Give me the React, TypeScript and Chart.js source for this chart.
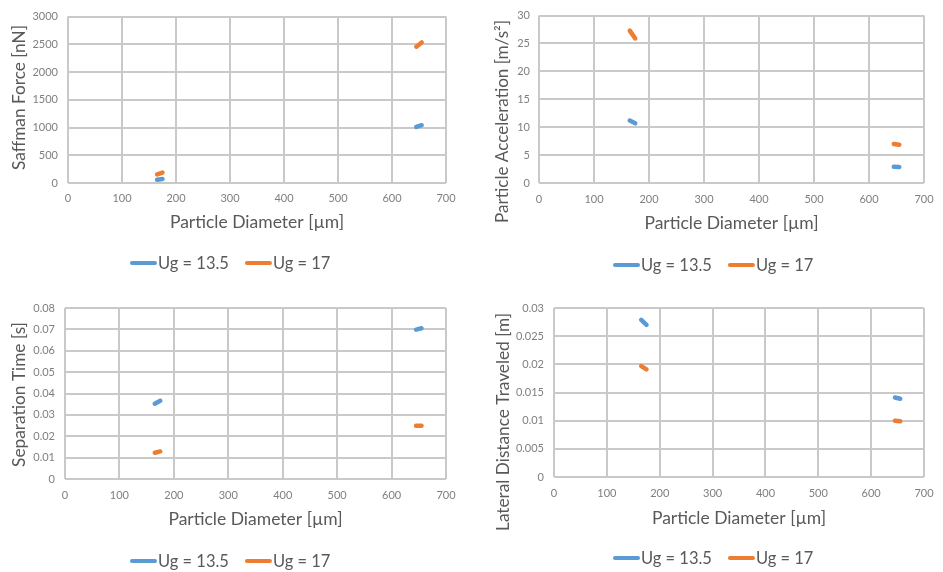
import React, { useEffect, useRef } from 'react';
import { Chart, registerables } from 'chart.js';

Chart.register(...registerables);

// ---------------- data ----------------
const seriesLabels = ['Ug = 13.5', 'Ug = 17'];
const seriesColors = ['#5B9BD5', '#ED7D31'];
const particleDiameters = [165, 175, 645, 655]; // µm
const xTickValues = [0, 100, 200, 300, 400, 500, 600, 700];
const xAxisTitle = 'Particle Diameter [µm]';

const saffmanUg135 = [60, 72, 1010, 1042];
const saffmanUg17 = [155, 188, 2458, 2535];
const saffmanTicks = [0, 500, 1000, 1500, 2000, 2500, 3000];

const accelUg135 = [11.2, 10.7, 2.9, 2.85];
const accelUg17 = [27.3, 25.9, 7.0, 6.85];
const accelTicks = [0, 5, 10, 15, 20, 25, 30];

const sepTimeUg135 = [0.0352, 0.0366, 0.0699, 0.0705];
const sepTimeUg17 = [0.0123, 0.0129, 0.0249, 0.0249];
const sepTimeTicks = [0, 0.01, 0.02, 0.03, 0.04, 0.05, 0.06, 0.07, 0.08];

const lateralUg135 = [0.0279, 0.027, 0.0141, 0.0139];
const lateralUg17 = [0.0197, 0.0191, 0.01, 0.0099];
const lateralTicks = [0, 0.005, 0.01, 0.015, 0.02, 0.025, 0.03];

// ---------------- layout ----------------
type Panel = {
  left: number; top: number; width: number; height: number;
  area: { l: number; r: number; t: number; b: number };
  yTitle: string; yTicks: number[]; series: number[][];
  yTitleCenterX: number; yTitleCenterY: number; yTitleLength: number; yTickRight: number;
  xTickCenterY: number; xTitleCenterY: number;
  legendX: number; legendY: number;
};

const panels: Panel[] = [
  {
    left: 0, top: 0, width: 470, height: 290,
    area: { l: 68, r: 446, t: 13, b: 183 },
    yTitle: 'Saffman Force [nN]', yTicks: saffmanTicks, series: [saffmanUg135, saffmanUg17],
    yTitleCenterX: 19, yTitleCenterY: 97.5, yTitleLength: 145, yTickRight: 58,
    xTickCenterY: 198, xTitleCenterY: 222,
    legendX: 130, legendY: 263,
  },
  {
    left: 470, top: 0, width: 473, height: 290,
    area: { l: 69, r: 459, t: 15, b: 183 },
    yTitle: 'Particle Acceleration [m/s²]', yTicks: accelTicks, series: [accelUg135, accelUg17],
    yTitleCenterX: 32, yTitleCenterY: 121.5, yTitleLength: 203, yTickRight: 60,
    xTickCenterY: 199, xTitleCenterY: 223,
    legendX: 143, legendY: 265,
  },
  {
    left: 0, top: 290, width: 470, height: 282,
    area: { l: 65, r: 446, t: 18, b: 189 },
    yTitle: 'Separation Time [s]', yTicks: sepTimeTicks, series: [sepTimeUg135, sepTimeUg17],
    yTitleCenterX: 19, yTitleCenterY: 104.5, yTitleLength: 145, yTickRight: 55,
    xTickCenterY: 205, xTitleCenterY: 229,
    legendX: 130, legendY: 271,
  },
  {
    left: 470, top: 290, width: 473, height: 282,
    area: { l: 84, r: 459, t: 18, b: 187 },
    yTitle: 'Lateral Distance Traveled [m]', yTicks: lateralTicks, series: [lateralUg135, lateralUg17],
    yTitleCenterX: 33, yTitleCenterY: 132, yTitleLength: 218, yTickRight: 74,
    xTickCenterY: 203, xTitleCenterY: 228,
    legendX: 143, legendY: 268,
  },
];

const FONT = 'Lato, "Open Sans", sans-serif';
const X_TITLE_SIZE = 17.5;
const TICK_SIZE = 11;
const LEGEND_SIZE = 16.5;
const TITLE_COLOR = '#595959';

function toPoints(values: number[]) {
  const pts: { x: number; y: number | null }[] = [];
  particleDiameters.forEach((d, i) => {
    if (i === 2) pts.push({ x: (particleDiameters[1] + particleDiameters[2]) / 2, y: null });
    pts.push({ x: d, y: values[i] });
  });
  return pts;
}

const fmt = (v: number | string) => String(parseFloat(Number(v).toFixed(6)));

const excelLegend = {
  id: 'excelLegend',
  afterDraw(chart: any, _args: any, opts: any) {
    const { ctx } = chart;
    ctx.save();
    ctx.font = `${LEGEND_SIZE}px ${FONT}`;
    ctx.textBaseline = 'middle';
    ctx.textAlign = 'left';
    let x = opts.x;
    const y = opts.y;
    chart.data.datasets.forEach((ds: any) => {
      ctx.strokeStyle = ds.borderColor;
      ctx.lineWidth = 4;
      ctx.lineCap = 'round';
      ctx.beginPath();
      ctx.moveTo(x + 2, y);
      ctx.lineTo(x + 25, y);
      ctx.stroke();
      ctx.fillStyle = TITLE_COLOR;
      ctx.fillText(ds.label, x + 28, y + 1);
      x += 28 + ctx.measureText(ds.label).width + 16;
    });
    ctx.restore();
  },
};

// vertical axis title, centred where the original places it
const yAxisTitle = {
  id: 'yAxisTitle',
  afterDraw(chart: any, _args: any, opts: any) {
    const { ctx } = chart;
    ctx.save();
    ctx.font = `16px ${FONT}`;
    const w = ctx.measureText(opts.text).width;
    const size = (16 * opts.length) / w;
    ctx.font = `${size}px ${FONT}`;
    ctx.translate(opts.x, opts.y);
    ctx.rotate(-Math.PI / 2);
    ctx.textAlign = 'center';
    ctx.textBaseline = 'middle';
    ctx.fillStyle = TITLE_COLOR;
    ctx.fillText(opts.text, 0, 0);
    ctx.restore();
  },
};

function PanelChart({ p }: { p: Panel }) {
  const ref = useRef<HTMLCanvasElement>(null);
  useEffect(() => {
    const canvas = ref.current!;
    const XH = 60;
    const titleLH = X_TITLE_SIZE * 1.2;
    const tickLH = TICK_SIZE * 1.2;
    const grid = { color: '#c9c9c9', lineWidth: 2, drawTicks: false };
    const chart = new Chart(canvas, {
      type: 'line',
      data: {
        datasets: p.series.map((vals, i) => ({
          label: seriesLabels[i],
          data: toPoints(vals),
          borderColor: seriesColors[i],
          backgroundColor: seriesColors[i],
          borderWidth: 4.5,
          borderCapStyle: 'round',
          pointRadius: 0,
          pointHoverRadius: 0,
          spanGaps: false,
          tension: 0,
        })),
      } as any,
      options: {
        responsive: false,
        animation: false,
        devicePixelRatio: 1,
        events: [],
        layout: {
          padding: { left: 0, top: p.area.t, right: p.width - p.area.r, bottom: p.height - p.area.b - XH },
        },
        plugins: {
          legend: { display: false },
          tooltip: { enabled: false },
          excelLegend: { x: p.legendX, y: p.legendY },
          yAxisTitle: { text: p.yTitle, x: p.yTitleCenterX, y: p.yTitleCenterY, length: p.yTitleLength },
        } as any,
        scales: {
          x: {
            type: 'linear',
            min: xTickValues[0],
            max: xTickValues[xTickValues.length - 1],
            afterBuildTicks: (s: any) => { s.ticks = xTickValues.map((v) => ({ value: v })); },
            afterFit: (s: any) => { s.height = XH; },
            grid,
            border: { display: false },
            ticks: {
              color: '#7f7f7f',
              font: { family: FONT, size: TICK_SIZE },
              padding: p.xTickCenterY - p.area.b - tickLH / 2,
              callback: fmt,
              maxRotation: 0,
            },
            title: {
              display: true,
              text: xAxisTitle,
              color: TITLE_COLOR,
              font: { family: FONT, size: X_TITLE_SIZE },
              padding: { top: 0, bottom: p.area.b + XH - p.xTitleCenterY - titleLH / 2 },
            },
          },
          y: {
            type: 'linear',
            min: p.yTicks[0],
            max: p.yTicks[p.yTicks.length - 1],
            afterBuildTicks: (s: any) => { s.ticks = p.yTicks.map((v) => ({ value: v })); },
            afterFit: (s: any) => { s.width = p.area.l; },
            grid,
            border: { display: false },
            ticks: {
              color: '#7f7f7f',
              font: { family: FONT, size: TICK_SIZE },
              padding: p.area.l - p.yTickRight,
              callback: fmt,
            },
            title: { display: false },
          },
        },
      } as any,
      plugins: [excelLegend, yAxisTitle],
    });
    return () => chart.destroy();
  }, [p]);
  return (
    <div style={{ position: 'absolute', left: p.left, top: p.top, width: p.width, height: p.height }}>
      <canvas ref={ref} width={p.width} height={p.height} style={{ display: 'block', width: p.width, height: p.height }} />
    </div>
  );
}

export default function App() {
  return (
    <div style={{ position: 'fixed', left: 0, top: 0, width: 943, height: 572, overflow: 'hidden', background: '#ffffff' }}>
      {panels.map((p, i) => <PanelChart key={i} p={p} />)}
    </div>
  );
}
